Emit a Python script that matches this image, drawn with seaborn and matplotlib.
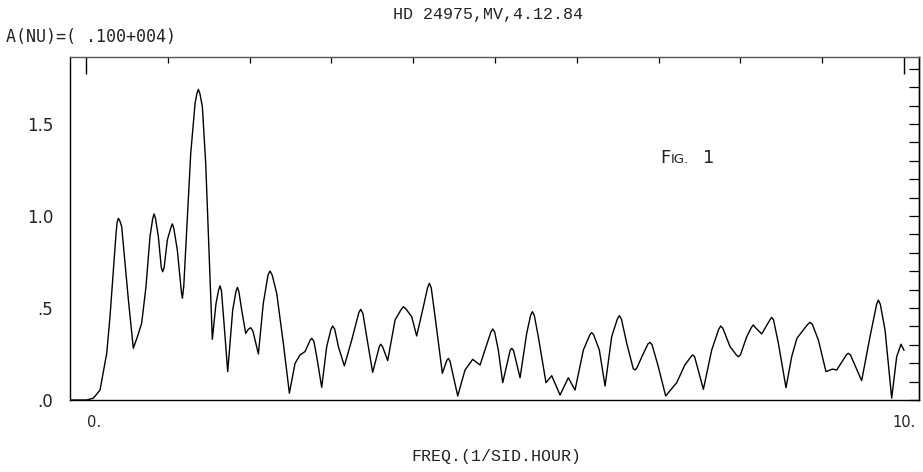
import matplotlib
matplotlib.use("Agg")
import matplotlib.pyplot as plt
import seaborn as sns
import pandas as pd
from matplotlib.ticker import FixedLocator, MultipleLocator, NullFormatter
from matplotlib.transforms import ScaledTranslation

# ---- data ----
# main trace: extrema and flank points
freq = [
    -0.196, 0.008, 0.09, 0.171, 0.253, 0.293, 0.334, 0.367, 0.395, 0.436,
    0.477, 0.518, 0.578, 0.628, 0.68, 0.733, 0.782, 0.831, 0.884, 0.937,
    0.994, 1.055, 1.116, 1.178, 1.231, 1.28, 1.333, 1.373, 1.422, 1.463,
    1.504, 1.544, 1.589, 1.638, 1.687, 1.732, 1.793, 1.85, 1.903, 1.952,
    2.013, 2.066, 2.107, 2.167, 2.249, 2.331, 2.412, 2.486,
    2.555, 2.616, 2.677, 2.759, 2.82, 2.881, 2.942, 3.015, 3.085, 3.158,
    3.248, 3.358, 3.431, 3.504, 3.602, 3.688, 3.778, 3.879, 3.981, 4.042,
    4.124, 4.197, 4.267, 4.356, 4.43, 4.544, 4.633, 4.727, 4.817, 4.972,
    5.04, 5.094, 5.204,
    5.306, 5.387, 5.456, 5.529, 5.623, 5.693, 5.795, 5.896, 5.978, 6.08,
    6.182, 6.275, 6.345, 6.426, 6.52, 6.61, 6.711, 6.895, 6.996, 7.086,
    7.221, 7.416, 7.547, 7.649,
    7.759, 7.873, 7.975, 8.077, 8.158, 8.26, 8.382, 8.464, 8.557, 8.627,
    8.69, 8.851, 8.953, 9.046, 9.124, 9.177, 9.319, 9.482, 9.584, 9.686,
    9.768, 9.849, 9.91, 9.963, 10.0,
]
amp = [
    0, 0, 0.01, 0.054, 0.254, 0.453, 0.707, 0.906, 0.987, 0.942,
    0.743, 0.543, 0.281, 0.344, 0.417, 0.616, 0.888, 1.011, 0.888, 0.697,
    0.87, 0.957, 0.815, 0.553, 0.924, 1.341, 1.612, 1.688, 1.594, 1.286,
    0.797, 0.33, 0.525, 0.62, 0.417, 0.154, 0.489, 0.612, 0.489, 0.362,
    0.393, 0.326, 0.25, 0.525, 0.701, 0.58, 0.308, 0.037,
    0.199, 0.245, 0.263, 0.335, 0.236, 0.069, 0.29, 0.402, 0.29, 0.185,
    0.326, 0.493, 0.344, 0.15, 0.303, 0.214, 0.435, 0.507, 0.453, 0.348,
    0.507, 0.634, 0.453, 0.145, 0.226, 0.022, 0.163, 0.221, 0.19, 0.386,
    0.272, 0.094, 0.281,
    0.121, 0.362, 0.48, 0.344, 0.094, 0.132, 0.027, 0.121, 0.054, 0.272,
    0.366, 0.272, 0.076, 0.344, 0.458, 0.308, 0.163, 0.313, 0.181, 0.022,
    0.094, 0.245, 0.058, 0.272,
    0.402, 0.29, 0.235, 0.344, 0.408, 0.359, 0.449, 0.308, 0.067, 0.236,
    0.335, 0.422, 0.326, 0.154, 0.168, 0.163, 0.254, 0.105, 0.344, 0.543,
    0.38, 0.01, 0.235, 0.303, 0.27,
]
# extra points read near the rounded crests / shallow troughs
crest_freq = [
    0.38, 0.412, 0.815, 0.848, 0.92, 0.955, 1.04, 1.072, 1.165, 1.195,
    1.355, 1.392, 1.622, 1.655, 1.833, 1.868, 1.985, 2.04, 2.225, 2.275,
    2.74, 2.785, 2.995, 3.04, 3.335, 3.385, 3.585, 3.625, 3.85, 3.91,
    4.175, 4.22, 4.41, 4.45, 4.89, 4.95, 4.995, 5.185, 5.225,
    5.435, 5.48, 6.16, 6.205, 6.495, 6.545, 6.69, 6.735, 6.8, 6.87, 6.92,
    7.32, 7.395, 7.44,
    7.735, 7.785, 7.95, 8.0, 8.135, 8.18, 8.36, 8.405, 8.82, 8.88,
    9.295, 9.345, 9.665, 9.71,
]
crest_amp = [
    0.965, 0.975, 0.985, 0.99, 0.72, 0.72, 0.94, 0.935, 0.59, 0.62,
    1.665, 1.665, 0.6, 0.595, 0.59, 0.59, 0.385, 0.375, 0.68, 0.68,
    0.325, 0.32, 0.385, 0.385, 0.475, 0.47, 0.29, 0.29, 0.49, 0.495,
    0.61, 0.61, 0.215, 0.21, 0.29, 0.37, 0.37, 0.27, 0.27,
    0.46, 0.46, 0.355, 0.355, 0.44, 0.44, 0.17, 0.175, 0.24, 0.305, 0.3,
    0.19, 0.235, 0.235,
    0.385, 0.39, 0.245, 0.245, 0.395, 0.395, 0.435, 0.435, 0.41, 0.41,
    0.245, 0.245, 0.52, 0.52,
]

x_major_ticks = [0, 10]
x_tick_labels = ["0.", "10."]
x_minor_ticks = [1, 2, 3, 4, 5, 6, 7, 8, 9]
y_major_ticks = [0.0, 0.5, 1.0, 1.5]
y_tick_labels = [".0", ".5", "1.0", "1.5"]

title_text = "HD 24975,MV,4.12.84"
xlabel_text = "FREQ.(1/SID.HOUR)"
ylabel_text = "A(NU)=( .100+004)"

# ---- plotting ----
sns.set_theme(style="white")
plt.rcParams["font.family"] = ["DejaVu Sans"]

W, H = 923, 472
df = pd.concat([
    pd.DataFrame({"freq": freq, "amp": amp}),
    pd.DataFrame({"freq": crest_freq, "amp": crest_amp}),
]).sort_values("freq").reset_index(drop=True)

fig = plt.figure(figsize=(W / 100, H / 100), dpi=100)
fig.patch.set_facecolor("white")
ax = fig.add_axes([70 / W, 72 / H, 849 / W, 343 / H])
ax.set_facecolor("white")

sns.lineplot(data=df, x="freq", y="amp", ax=ax, color="black", lw=1.0,
             estimator=None, sort=False)
for ln in ax.get_lines():
    ln.set_solid_joinstyle("round")

ax.set_xlim(-0.196, 10.183)
ax.set_ylim(0, 1.864)
ax.set_xticks(x_major_ticks)
ax.set_xticklabels(x_tick_labels)
ax.xaxis.set_minor_locator(FixedLocator(x_minor_ticks))
ax.set_yticks(y_major_ticks)
ax.set_yticklabels(y_tick_labels)
ax.yaxis.set_minor_locator(MultipleLocator(0.1))
ax.set_xlabel("")
ax.set_ylabel("")

ax.tick_params(axis="both", which="both", direction="in", top=True, right=False,
               colors="black", labelcolor="#222222")
ax.tick_params(axis="y", which="major", length=12, width=1.2, labelsize=12, pad=12)
ax.tick_params(axis="y", which="minor", length=7, width=0.9)
ax.tick_params(axis="x", which="major", length=12, width=1.0, labelsize=10.5, pad=11)
ax.tick_params(axis="x", which="minor", length=4, width=0.9)
for s in ax.spines.values():
    s.set_color("black")
    s.set_linewidth(1.0)
ax.spines["top"].set_color("#555555")

# right frame: uniform short inward ticks every 0.1
sec = ax.secondary_yaxis("right")
sec.yaxis.set_major_locator(MultipleLocator(0.1))
sec.yaxis.set_major_formatter(NullFormatter())
sec.tick_params(axis="y", which="both", direction="in", length=7, width=0.9, colors="black")
sec.spines["right"].set_linewidth(1.0)

# plotter-style offset of the "0." label
zero_lbl = ax.get_xticklabels()[0]
zero_lbl.set_transform(zero_lbl.get_transform() + ScaledTranslation(6 / 72, 0, fig.dpi_scale_trans))

fig.text(488 / W, 1 - 14 / H, title_text, family="Liberation Mono", fontsize=12,
         ha="center", va="center", color="#222222")
fig.text(496 / W, 1 - 456.5 / H, xlabel_text, family="Liberation Mono", fontsize=12,
         ha="center", va="center", color="#222222")
fig.text(6 / W, 1 - 37.5 / H, ylabel_text, family="DejaVu Sans Mono", fontsize=12,
         ha="left", va="center", color="#222222")

# "FIG. 1" in small caps
fig.text(660 / W, 1 - 163 / H, "F", fontsize=13, ha="left", va="baseline", color="#222222")
fig.text(671 / W, 1 - 163 / H, "IG.", fontsize=9.5, ha="left", va="baseline", color="#222222")
fig.text(703 / W, 1 - 163 / H, "1", fontsize=13, ha="left", va="baseline", color="#222222")

fig.savefig("out.png", dpi=100, facecolor="white")
